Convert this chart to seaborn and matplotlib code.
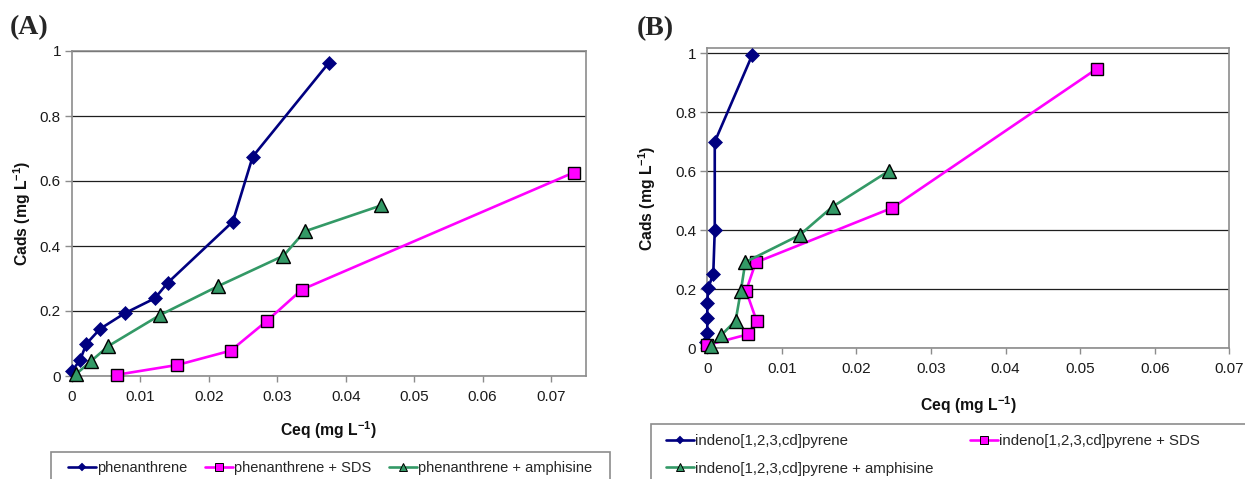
import matplotlib
matplotlib.use("Agg")
import matplotlib.pyplot as plt
from matplotlib.lines import Line2D
from matplotlib.patches import Rectangle
import numpy as np
import pandas as pd
import seaborn as sns

# ---- data -------------------------------------------------------------
# (A) phenanthrene
phe_x = [0.0, 0.0012, 0.0021, 0.0041, 0.0077, 0.0121, 0.0140, 0.0235, 0.0264, 0.0375]
phe_y = [0.015, 0.05, 0.099, 0.145, 0.193, 0.239, 0.287, 0.475, 0.675, 0.963]
phe_sds_x = [0.0066, 0.0154, 0.0232, 0.0285, 0.0336, 0.0733]
phe_sds_y = [0.004, 0.034, 0.078, 0.170, 0.266, 0.626]
phe_amp_x = [0.0006, 0.0028, 0.0053, 0.0129, 0.0214, 0.0309, 0.0340, 0.0452]
phe_amp_y = [0.006, 0.046, 0.092, 0.188, 0.277, 0.370, 0.445, 0.525]

# (B) indeno[1,2,3,cd]pyrene
ind_x = [-0.0002, 0.0, 0.0, 0.0, 0.0001, 0.0008, 0.0010, 0.0010, 0.0060]
ind_y = [0.022, 0.051, 0.102, 0.153, 0.203, 0.252, 0.400, 0.700, 0.993]
ind_sds_x = [0.0, 0.0054, 0.0066, 0.0052, 0.0065, 0.0248, 0.0522]
ind_sds_y = [0.011, 0.047, 0.094, 0.195, 0.291, 0.476, 0.947]
ind_amp_x = [0.0005, 0.0019, 0.0038, 0.0045, 0.0051, 0.0124, 0.0168, 0.0244]
ind_amp_y = [0.008, 0.045, 0.094, 0.195, 0.292, 0.384, 0.480, 0.602]

labels_a = ["phenanthrene", "phenanthrene + SDS", "phenanthrene + amphisine"]
labels_b = ["indeno[1,2,3,cd]pyrene", "indeno[1,2,3,cd]pyrene + SDS",
            "indeno[1,2,3,cd]pyrene + amphisine"]

x_ticks = [0, 0.01, 0.02, 0.03, 0.04, 0.05, 0.06, 0.07]
x_tick_labels = ["0", "0.01", "0.02", "0.03", "0.04", "0.05", "0.06", "0.07"]
y_ticks = [0, 0.2, 0.4, 0.6, 0.8, 1.0]
y_tick_labels = ["0", "0.2", "0.4", "0.6", "0.8", "1"]

# ---- style ------------------------------------------------------------
sns.set_theme(style="white")
plt.rcParams["font.family"] = ["Liberation Sans", "DejaVu Sans"]

NAVY = "#000080"
MAGENTA = "#FF00FF"
GREEN = "#339966"
FRAME = "#8c8c8c"
GRID = "#1e1e1e"

series_style = [
    dict(color=NAVY, marker="D", ms=7.5, mec=NAVY, mew=0.5),
    dict(color=MAGENTA, marker="s", ms=9, mec="black", mew=1.0),
    dict(color=GREEN, marker="^", ms=10, mec="black", mew=1.0),
]

fig = plt.figure(figsize=(12.45, 4.79), dpi=100)
W, H = 1245, 479


def px_axes(l, t, r, b):
    return fig.add_axes([l / W, 1 - b / H, (r - l) / W, (b - t) / H])


ax_a = px_axes(72, 51, 586, 376)
ax_b = px_axes(707.3, 48.3, 1229.3, 348.3)


def draw_panel(ax, xs, ys, labels, xmax, ymax):
    for x, y, lab, st in zip(xs, ys, labels, series_style):
        df = pd.DataFrame({"x": x, "y": y})
        sns.lineplot(data=df, x="x", y="y", ax=ax, sort=False, estimator=None,
                     color=st["color"], lw=1.9, marker=st["marker"],
                     markersize=st["ms"], markeredgecolor=st["mec"],
                     markeredgewidth=st["mew"], label=lab, legend=False,
                     clip_on=False, zorder=3)
    ax.set_xlim(0, xmax)
    ax.set_ylim(0, ymax)
    ax.set_xticks(x_ticks)
    ax.set_xticklabels(x_tick_labels)
    ax.set_yticks(y_ticks)
    ax.set_yticklabels(y_tick_labels)
    ax.yaxis.grid(True, color=GRID, lw=0.9)
    ax.xaxis.grid(False)
    ax.set_axisbelow(True)
    for s in ax.spines.values():
        s.set_color(FRAME)
        s.set_linewidth(1.2)
        s.set_visible(True)
    ax.tick_params(axis="x", direction="out", length=4, width=1, color=FRAME,
                   pad=6, labelsize=11, labelcolor="#1a1a1a", bottom=True)
    ax.tick_params(axis="y", direction="out", length=5, width=1, color=FRAME,
                   pad=3, labelsize=11, labelcolor="#1a1a1a", left=True)
    ax.set_xlabel("Ceq (mg L$^{\\mathregular{-1}}$)", fontsize=11.3,
                  fontweight="bold", color="#111111")
    ax.set_ylabel("Cads (mg L$^{\\mathregular{-1}}$)", fontsize=11.3,
                  fontweight="bold", color="#111111")


draw_panel(ax_a, [phe_x, phe_sds_x, phe_amp_x], [phe_y, phe_sds_y, phe_amp_y],
           labels_a, 0.0751, 1.0)
draw_panel(ax_b, [ind_x, ind_sds_x, ind_amp_x], [ind_y, ind_sds_y, ind_amp_y],
           labels_b, 0.07, 1.017)

ax_a.xaxis.set_label_coords((328 - 72) / 514, (376 - 419) / 325)
ax_a.yaxis.set_label_coords((33 - 72) / 514, 0.5)
ax_b.xaxis.set_label_coords(0.5, (348.3 - 394) / 300)
ax_b.yaxis.set_label_coords((658 - 707.3) / 522, 0.5)

# panel letters
fig.text(10 / W, 1 - 28 / H, "(A)", fontsize=20, fontweight="bold",
         family=["Liberation Serif", "DejaVu Serif"], va="center", ha="left")
fig.text(637 / W, 1 - 29 / H, "(B)", fontsize=20, fontweight="bold",
         family=["Liberation Serif", "DejaVu Serif"], va="center", ha="left")


# legends
def handle(st):
    return Line2D([], [], color=st["color"], lw=1.9, marker=st["marker"],
                  markersize=st["ms"] * 0.6, markeredgecolor=st["mec"],
                  markeredgewidth=st["mew"] * 0.7)


hs = [handle(st) for st in series_style]

fig.add_artist(Rectangle((51 / W, -0.05), (610 - 51) / W, 0.05 + 1 - 452 / H,
                         transform=fig.transFigure, fill=False,
                         edgecolor=FRAME, lw=1.2, clip_on=False))
fig.legend(hs, labels_a, loc="center left", bbox_to_anchor=(68 / W, 1 - 468 / H),
           ncol=3, frameon=False, fontsize=10.5, handlelength=1.9,
           handletextpad=0.1, columnspacing=1.2, borderpad=0, borderaxespad=0)

fig.add_artist(Rectangle((651 / W, -0.05), 0.5, 0.05 + 1 - 424 / H,
                         transform=fig.transFigure, fill=False,
                         edgecolor=FRAME, lw=1.2, clip_on=False))
fig.legend([hs[0], hs[2], hs[1]], [labels_b[0], labels_b[2], labels_b[1]],
           loc="upper left", bbox_to_anchor=(666 / W, 1 - 434 / H),
           ncol=2, frameon=False, fontsize=10.8, handlelength=1.85,
           handletextpad=0.1, columnspacing=2.4, labelspacing=0.9,
           borderpad=0, borderaxespad=0)

fig.savefig("out.png", dpi=100)
